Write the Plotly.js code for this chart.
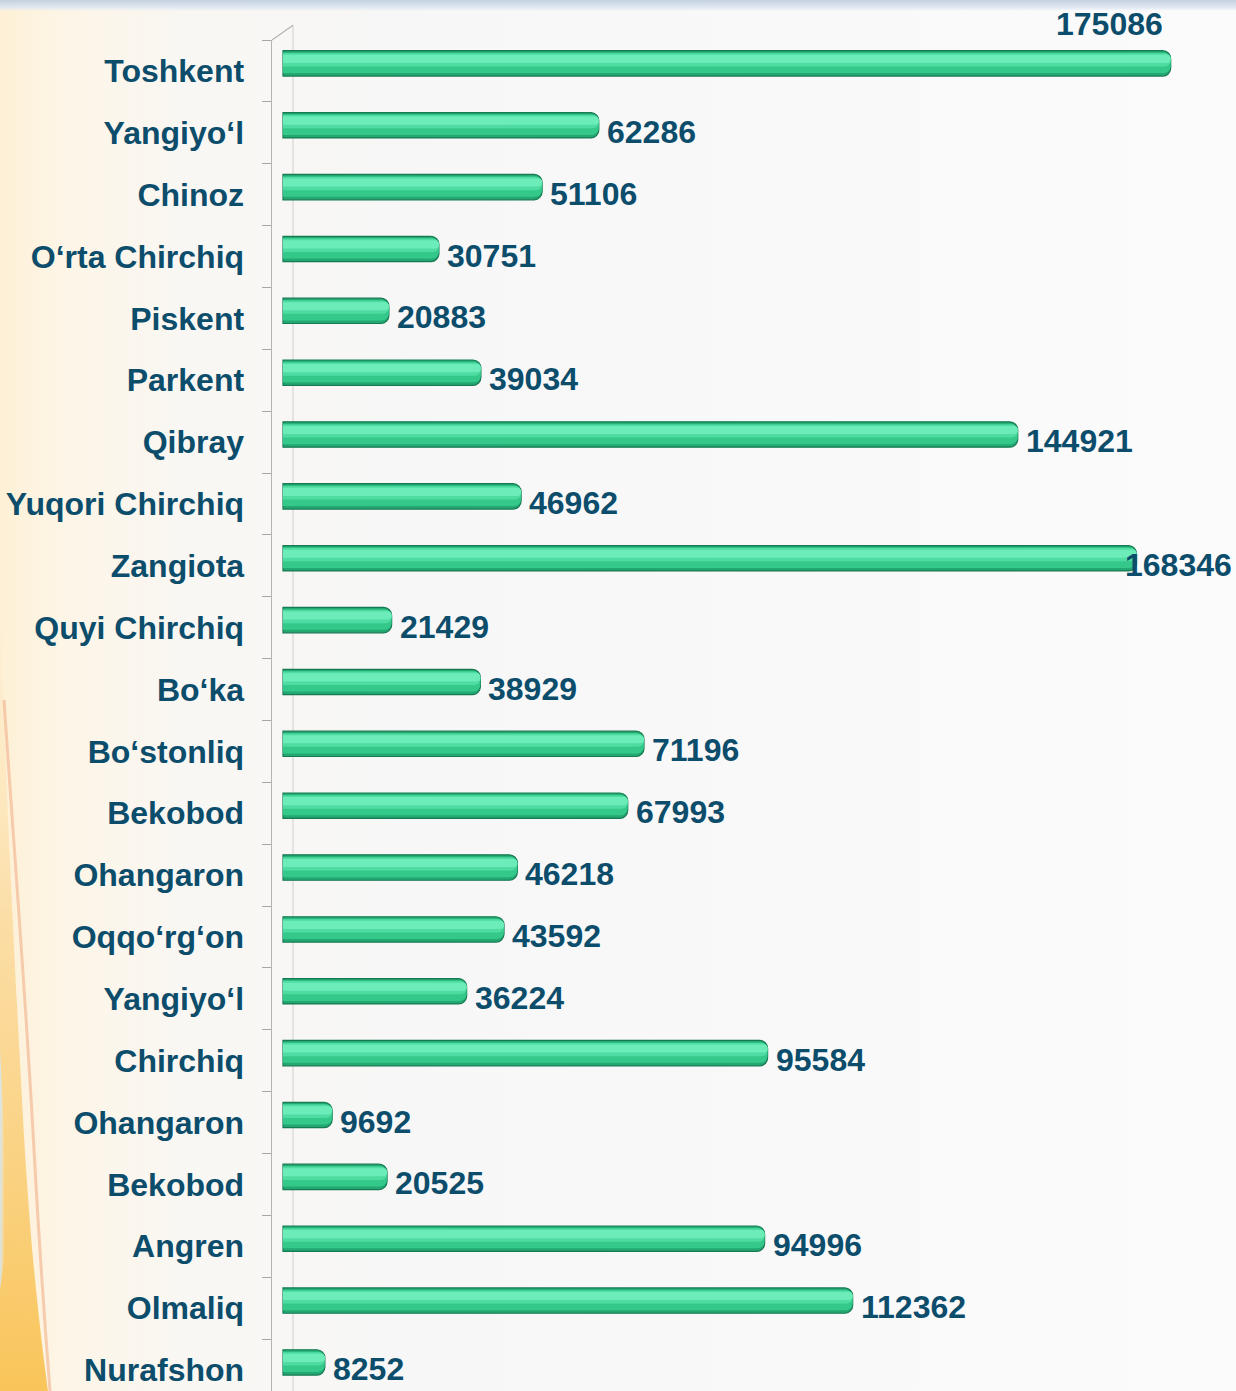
<!DOCTYPE html>
<html>
<head>
<meta charset="utf-8">
<script src="https://cdn.plot.ly/plotly-3.0.1.min.js"></script>
<style>
  html, body { margin:0; padding:0; }
  body {
    width:1236px; height:1391px; overflow:hidden; position:relative;
    background:
      linear-gradient(to bottom, rgba(190,205,222,0.9) 0px, rgba(225,233,242,0.9) 8px, rgba(255,255,255,0) 11px),
      linear-gradient(to right, #fdf0d6 0px, #fdf5e6 60px, #f9f7f3 180px, #f7f7f7 400px, #fbfbfb 100%);
  }
  #bg { position:absolute; left:0; top:0; }
  #chart { position:absolute; left:0; top:0; width:1236px; height:1391px; }
</style>
</head>
<body>
<svg id="bg" width="1236" height="1391">
  <defs>
    <linearGradient id="og" x1="0" y1="0" x2="0" y2="1">
      <stop offset="0" stop-color="#fde7b8" stop-opacity="0"/>
      <stop offset="0.4" stop-color="#fbd99a" stop-opacity="0.8"/>
      <stop offset="1" stop-color="#f9c55a" stop-opacity="1"/>
    </linearGradient>
    <linearGradient id="bl" x1="0" y1="0" x2="1" y2="0">
      <stop offset="0" stop-color="#cfe6f7" stop-opacity="0.9"/>
      <stop offset="1" stop-color="#eef4f8" stop-opacity="0"/>
    </linearGradient>
  </defs>
  <path d="M0,600 C6,800 14,950 22,1100 C30,1250 40,1330 48,1391 L0,1391 Z" fill="url(#og)"/>
  <path d="M0,1050 C4,1120 6,1180 4,1260 L0,1290 Z" fill="url(#bl)"/>
  <path d="M4,700 C14,850 26,1000 34,1150 C40,1260 46,1340 50,1391" stroke="#f2b08a" stroke-width="3" fill="none" opacity="0.6"/>
</svg>
<div id="chart"></div>
<script>
const categories = ["Toshkent","Yangiyo‘l","Chinoz","O‘rta Chirchiq","Piskent","Parkent","Qibray","Yuqori Chirchiq","Zangiota","Quyi Chirchiq","Bo‘ka","Bo‘stonliq","Bekobod","Ohangaron","Oqqo‘rg‘on","Yangiyo‘l","Chirchiq","Ohangaron","Bekobod","Angren","Olmaliq","Nurafshon"];
const values = [175086,62286,51106,30751,20883,39034,144921,46962,168346,21429,38929,71196,67993,46218,43592,36224,95584,9692,20525,94996,112362,8252];

const idx = categories.map((c, i) => i);
const labelColor = "#0c4d6c";
const font = "Liberation Sans, Arial, sans-serif";

// bar geometry in category units (1 unit ~ 61.9 px)
const W = 0.41, OFF = -0.327;
function layer(frac0, frac1, color, radius, line) {
  return {
    type: "bar", orientation: "h", x: values, y: idx, hoverinfo: "skip",
    width: W * (frac1 - frac0), offset: OFF + W * frac0,
    marker: { color: color, line: line || { width: 0 }, cornerradius: radius }
  };
}
const traces = [
  layer(0, 1, "#23a872", 8, { color: "#167a52", width: 1.2 }),
  layer(0.07, 0.88, "#34c98b", 7),
  layer(0.1, 0.62, "#4fdca2", 6),
  layer(0.16, 0.48, "#6cecb9", 5)
];

const annotations = values.map((v, i) => {
  const a = {
    x: v, y: i, xref: "x", yref: "y", text: String(v), showarrow: false,
    xanchor: "left", yanchor: "middle", xshift: 6, yshift: 1,
    font: { family: font, size: 32, color: labelColor, weight: "bold" }
  };
  if (v === Math.max(...values)) {
    a.xanchor = "right"; a.yanchor = "bottom"; a.xshift = -6; a.yshift = 27;
  }
  if (categories[i] === "Zangiota") { a.xshift = -14; }
  return a;
});

const layout = {
  width: 1236, height: 1391,
  margin: { l: 272, r: 0, t: 40, b: 0 },
  paper_bgcolor: "rgba(0,0,0,0)", plot_bgcolor: "rgba(0,0,0,0)",
  barmode: "overlay", showlegend: false,
  xaxis: { range: [-2170, 187968], showgrid: false, zeroline: false, showticklabels: false, ticks: "", showline: false },
  yaxis: {
    range: [21.34, -0.5], tickmode: "array", tickvals: idx, ticktext: categories,
    showgrid: false, zeroline: false, showline: true, linecolor: "#b4b4b4", linewidth: 1.5,
    ticks: "", ticklabelstandoff: 20,
    tickfont: { family: font, size: 32, color: labelColor, weight: "bold" },
    minor: { tickmode: "linear", tick0: -0.5, dtick: 1, ticks: "outside", ticklen: 9, tickcolor: "#a8a8a8", tickwidth: 1, showgrid: false }
  },
  annotations: annotations,
  shapes: [
    { type: "line", xref: "paper", yref: "paper", x0: 0.0218, x1: 0.0218, y0: 0, y1: 1.011, line: { color: "#cfcfcf", width: 1 }, layer: "below" },
    { type: "line", xref: "paper", yref: "paper", x0: 0, x1: 0.0218, y0: 1, y1: 1.011, line: { color: "#b4b4b4", width: 1.2 } }
  ]
};

Plotly.newPlot("chart", traces, layout, { displayModeBar: false, staticPlot: true });
</script>
</body>
</html>
